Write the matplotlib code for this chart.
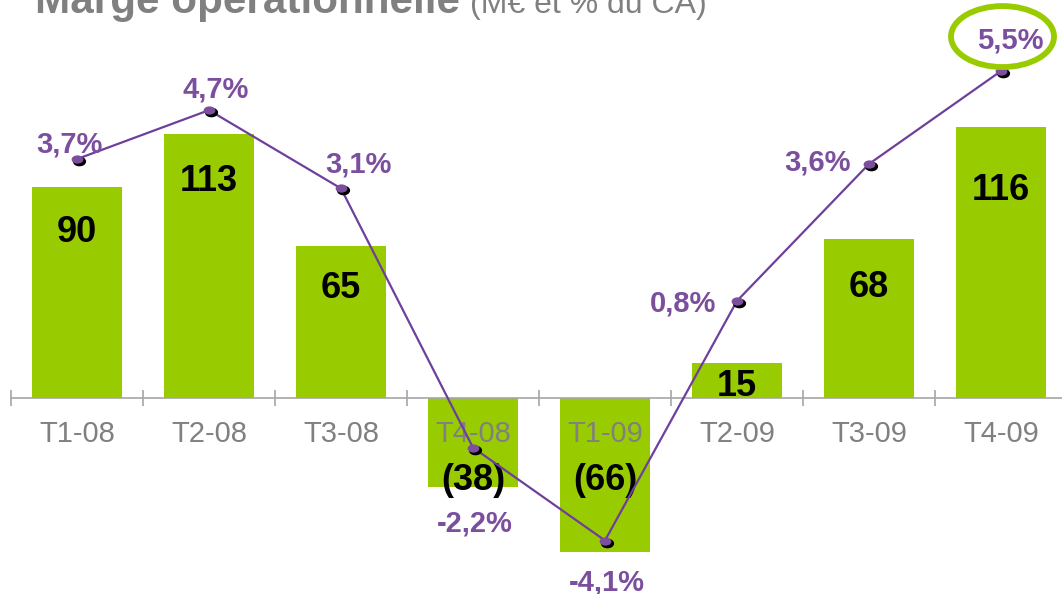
import numpy as np
import matplotlib
matplotlib.use("Agg")
import matplotlib.pyplot as plt
import matplotlib.transforms as mtransforms
import matplotlib.path as mpath
from matplotlib.patches import Ellipse

# ---------------- data ----------------
quarters = ["T1-08", "T2-08", "T3-08", "T4-08", "T1-09", "T2-09", "T3-09", "T4-09"]
margin_meur = [90, 113, 65, -38, -66, 15, 68, 116]
margin_pct = [3.7, 4.7, 3.1, -2.2, -4.1, 0.8, 3.6, 5.5]

# ---------------- style ----------------
plt.rcParams['font.family'] = ['Liberation Sans', 'DejaVu Sans']
GREEN = "#99CC00"
PURPLE_TXT = "#7B4F9E"
PURPLE_LINE = "#6E3F9C"
GREY_TXT = "#808080"
GREY_LINE = "#A6A6A6"

W, H, DPI = 1062, 594, 100
fig = plt.figure(figsize=(W / DPI, H / DPI), dpi=DPI)
ax = fig.add_axes([0, 0, 1, 1])
ax2 = ax.twinx()

x = np.arange(len(quarters))
XMIN, XMAX = -0.583, 7.462
ax.set_xlim(XMIN, XMAX)
ax.set_ylim(-83.76, 170.09)
ax2.set_ylim(-5.194, 6.953)
ax.set_facecolor('white')

# bars
ax.bar(x, margin_meur, width=0.68, color=GREEN, zorder=1)

# category axis line with separators
for s in ['top', 'right', 'left']:
    ax.spines[s].set_visible(False)
for s in ['top', 'right', 'left', 'bottom']:
    ax2.spines[s].set_visible(False)
ax.spines['bottom'].set_position(('data', 0))
ax.spines['bottom'].set_bounds(-0.5, XMAX)
ax.spines['bottom'].set_color(GREY_LINE)
ax.spines['bottom'].set_linewidth(1.2)
ax.spines['bottom'].set_zorder(2)
ax.set_xticks(x)
ax.set_xticklabels([])
ax.set_xticks(x - 0.5, minor=True)
ax.tick_params(axis='x', which='major', length=0)
ax.tick_params(axis='x', which='minor', length=11, direction='inout',
               color=GREY_LINE, width=1.2)
ax.set_yticks([])
ax2.set_yticks([])
ax2.set_xticks([])

# category labels
for xi, q in zip(x, quarters):
    ax.annotate(q, (xi, 0), xytext=(0, -44), textcoords='offset pixels',
                ha='center', va='baseline', fontsize=21, color=GREY_TXT, zorder=3)

# bar value labels (baseline offsets in pixels, relative to bar end / axis)
bar_label_dy = [-55, -57, -52, -92, -92, -33, -58, -73]
for xi, v, dy in zip(x, margin_meur, bar_label_dy):
    txt = f"{v}" if v >= 0 else f"({-v})"
    anchor = v if v >= 0 else 0
    ax.annotate(txt, (xi, anchor), xytext=(0, dy), textcoords='offset pixels',
                ha='center', va='baseline', fontsize=26, fontweight='bold',
                color='black', zorder=4)

# percentage line
ell = mpath.Path.unit_circle().transformed(mtransforms.Affine2D().scale(1, 0.7))
shadow_tr = mtransforms.offset_copy(ax2.transData, fig=fig, x=2, y=-2, units='dots')
ax2.plot(x, margin_pct, color=PURPLE_LINE, lw=1.6, zorder=5)
ax2.plot(x, margin_pct, ls='none', marker=ell, markersize=8.5, color='black',
         transform=shadow_tr, zorder=6)
ax2.plot(x, margin_pct, ls='none', marker=ell, markersize=8.5, color=PURPLE_TXT,
         markeredgewidth=0, zorder=7)

pct_offsets = [(-8, 7), (7, 13), (17, 16), (2, -84), (2, -50), (-54, -11), (-51, -7), (9, 23)]
for xi, p, (dx, dy) in zip(x, margin_pct, pct_offsets):
    ax2.annotate(f"{p:.1f}%".replace('.', ','), (xi, p), xytext=(dx, dy),
                 textcoords='offset pixels', ha='center', va='baseline',
                 fontsize=21, fontweight='bold', color=PURPLE_TXT, zorder=8)

# highlight ring around the last value
i_last = len(x) - 1
ring_tr = (mtransforms.Affine2D().translate(1.5, 34.5)
           + mtransforms.ScaledTranslation(x[i_last], margin_pct[i_last], ax2.transData))
ax2.add_patch(Ellipse((0, 0), 103, 61, transform=ring_tr, fill=False,
                      edgecolor=GREEN, lw=4.2, zorder=9))

# title (partly cut at top)
fig.text(35 / W, 1 - 13 / H, "Marge opérationnelle", fontsize=30.4, fontweight='bold',
         color=GREY_TXT, va='baseline', ha='left')
fig.text(470 / W, 1 - 13 / H, "(M€ et % du CA)", fontsize=23,
         color=GREY_TXT, va='baseline', ha='left')

fig.savefig("out.png", dpi=DPI)
